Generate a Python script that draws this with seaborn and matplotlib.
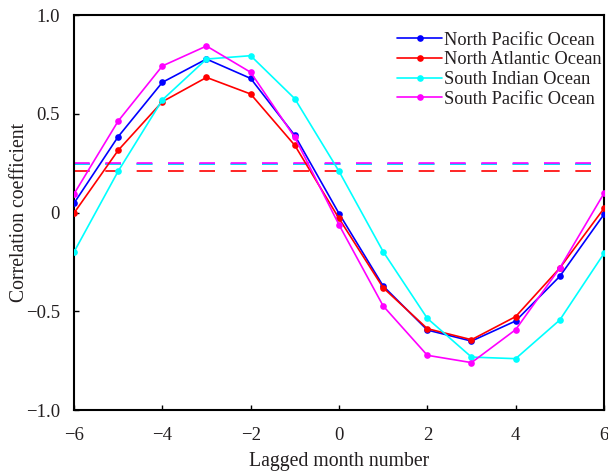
import matplotlib
matplotlib.use("Agg")
import matplotlib.pyplot as plt
import seaborn as sns
import pandas as pd

lags = [-6, -5, -4, -3, -2, -1, 0, 1, 2, 3, 4, 5, 6]
north_pacific = [0.047, 0.384, 0.659, 0.777, 0.679, 0.39, -0.005, -0.372, -0.595, -0.651, -0.549, -0.323, -0.009]
north_atlantic = [-0.003, 0.315, 0.561, 0.684, 0.600, 0.340, -0.03, -0.381, -0.588, -0.644, -0.527, -0.281, 0.021]
south_indian = [-0.20, 0.209, 0.570, 0.777, 0.794, 0.576, 0.209, -0.198, -0.536, -0.732, -0.740, -0.544, -0.207]
south_pacific = [0.094, 0.463, 0.742, 0.843, 0.710, 0.380, -0.062, -0.473, -0.723, -0.760, -0.593, -0.281, 0.097]
series_names = ["North Pacific Ocean", "North Atlantic Ocean", "South Indian Ocean", "South Pacific Ocean"]
series_colors = ["#0000FF", "#FF0000", "#00FFFF", "#FF00FF"]
significance = [0.245, 0.21, 0.245, 0.25]
y_ticks = [-1.0, -0.5, 0, 0.5, 1.0]
y_tick_labels = ["\u22121.0", "\u22120.5", "0", "0.5", "1.0"]
x_ticks = [-6, -4, -2, 0, 2, 4, 6]
x_tick_labels = ["\u22126", "\u22124", "\u22122", "0", "2", "4", "6"]

values = [north_pacific, north_atlantic, south_indian, south_pacific]
df = pd.DataFrame({
    "lag": lags * 4,
    "corr": sum(values, []),
    "ocean": sum([[n] * len(lags) for n in series_names], []),
})

sns.set_theme(style="ticks")
plt.rcParams["font.family"] = ["Liberation Serif", "DejaVu Serif"]
text_color = "#231f20"
fs_tick = 13.5
fs_label = 14.2
fs_leg = 13.2

fig = plt.figure(figsize=(6.08, 4.75), dpi=100)
ax = fig.add_axes([0.1217, 0.1368, 0.8717, 0.8316])

palette = dict(zip(series_names, series_colors))
for name, thr in zip(series_names, significance):
    ax.axhline(thr, color=palette[name], linestyle=(0, (9.4, 9.4)), linewidth=1.2, zorder=1)

sns.lineplot(data=df, x="lag", y="corr", hue="ocean", hue_order=series_names,
             palette=palette, marker="o", markersize=4.8, markeredgewidth=0,
             linewidth=1.2, ax=ax, zorder=3)

ax.set_xlim(-6, 6)
ax.set_ylim(-1.0, 1.0)
ax.set_xticks(x_ticks)
ax.set_xticklabels(x_tick_labels)
ax.set_yticks(y_ticks)
ax.set_yticklabels(y_tick_labels)
ax.tick_params(direction="in", length=3.5, width=1, labelsize=fs_tick, colors="black",
               labelcolor=text_color)
ax.tick_params(axis="x", pad=12)
ax.tick_params(axis="y", pad=10)
for s in ax.spines.values():
    s.set_linewidth(1.5)
    s.set_color("black")
ax.set_xlabel("Lagged month number", fontsize=fs_label, labelpad=6, color=text_color)
ax.set_ylabel("Correlation coefficient", fontsize=fs_label, labelpad=-2, color=text_color)

leg = ax.legend(loc="upper right", frameon=False, fontsize=fs_leg, handlelength=2.45,
                handletextpad=0.12, labelspacing=0.15, borderaxespad=0, borderpad=0,
                bbox_to_anchor=(0.996, 0.958))
for t in leg.get_texts():
    t.set_color(text_color)

fig.savefig("out.png", dpi=100)
